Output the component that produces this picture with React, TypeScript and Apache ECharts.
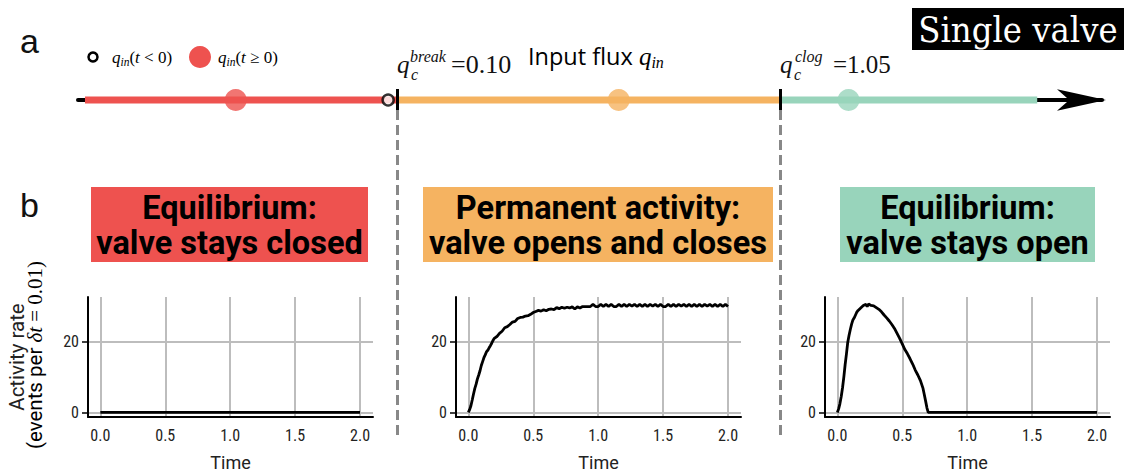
import React, { useEffect, useRef } from 'react';
import * as echarts from 'echarts';

// ---------- data ----------
const timeClosed = [0, 0.5, 1.0, 1.5, 2.0];
const rateClosed = [0, 0, 0, 0, 0];

const timePermanent = [
  0.00, 0.01, 0.02, 0.03, 0.04, 0.05, 0.06, 0.07, 0.08, 0.09, 0.10, 0.11, 0.12, 0.13, 0.14, 0.15, 0.16, 0.17, 0.18, 0.19,
  0.20, 0.22, 0.24, 0.26, 0.28, 0.30, 0.32, 0.34, 0.36, 0.38, 0.40, 0.42, 0.44, 0.46, 0.48, 0.50, 0.52, 0.54, 0.56, 0.58,
  0.60, 0.62, 0.64, 0.66, 0.68, 0.70, 0.72, 0.74, 0.76, 0.78, 0.80, 0.82, 0.84, 0.86, 0.88, 0.90, 0.92, 0.94, 0.96, 0.98,
  1.00, 1.02, 1.04, 1.06, 1.08, 1.10, 1.12, 1.14, 1.16, 1.18, 1.20, 1.22, 1.24, 1.26, 1.28, 1.30, 1.32, 1.34, 1.36, 1.38,
  1.40, 1.42, 1.44, 1.46, 1.48, 1.50, 1.52, 1.54, 1.56, 1.58, 1.60, 1.62, 1.64, 1.66, 1.68, 1.70, 1.72, 1.74, 1.76, 1.78,
  1.80, 1.82, 1.84, 1.86, 1.88, 1.90, 1.92, 1.94, 1.96, 1.98, 2.00,
];
const ratePermanent = [
  0.0, 0.8, 1.9, 3.5, 5.2, 6.8, 8.0, 9.5, 10.6, 11.8, 13.3, 14.4, 15.5, 16.3, 17.2, 17.6, 18.3, 18.9, 19.6, 20.4,
  21.0, 21.5, 22.4, 23.0, 24.0, 24.3, 24.9, 25.6, 25.8, 26.6, 26.9, 27.0, 27.3, 27.4, 27.8, 28.3, 28.6, 28.9, 28.7, 29.1,
  28.8, 29.2, 29.3, 29.1, 29.7, 29.4, 29.8, 29.5, 29.8, 29.6, 29.9, 29.3, 29.9, 29.6, 30.0, 30.0, 30.0, 30.0, 30.6, 30.0,
  30.0, 30.6, 30.0, 30.6, 30.0, 30.6, 30.0, 30.0, 30.6, 30.0, 30.6, 30.0, 30.6, 30.1, 30.6, 30.0, 30.6, 30.0, 30.6, 30.0,
  30.6, 30.1, 30.6, 30.0, 30.6, 30.0, 30.0, 30.6, 30.0, 30.6, 30.0, 30.6, 30.1, 30.6, 30.0, 30.6, 30.0, 30.6, 30.0, 30.6,
  30.0, 30.6, 30.1, 30.6, 30.0, 30.6, 30.0, 30.6, 30.0, 30.6, 30.0,
];

const timeOpen = [
  0.00, 0.01, 0.02, 0.03, 0.04, 0.05, 0.06, 0.07, 0.08, 0.09, 0.10, 0.11, 0.12, 0.13, 0.14, 0.15, 0.16, 0.18, 0.20, 0.22,
  0.23, 0.24, 0.26, 0.28, 0.30, 0.32, 0.34, 0.36, 0.38, 0.40, 0.42, 0.44, 0.46, 0.48, 0.50, 0.52, 0.54, 0.56, 0.58, 0.60,
  0.62, 0.64, 0.66, 0.67, 0.68, 0.69, 0.70, 1.00, 1.50, 2.00,
];
const rateOpen = [
  0.0, 1.0, 2.5, 4.5, 7.0, 10.0, 13.5, 16.5, 19.8, 21.8, 23.5, 25.0, 26.2, 26.8, 27.6, 28.4, 28.9, 29.6, 30.3, 30.6,
  30.0, 30.7, 30.3, 30.2, 29.7, 29.2, 28.5, 27.6, 26.8, 25.9, 24.9, 23.8, 22.4, 21.0, 19.4, 17.8, 16.6, 15.2, 13.7, 12.0,
  10.6, 9.0, 6.8, 5.0, 3.2, 1.3, 0.0, 0.0, 0.0, 0.0,
];

const xTicks = [0, 0.5, 1.0, 1.5, 2.0];
const yTicks = [0, 20];

const regimeTitles = [
  'Equilibrium:\nvalve stays closed',
  'Permanent activity:\nvalve opens and closes',
  'Equilibrium:\nvalve stays open',
];
const regimeColors = ['#EE524F', '#F5B361', '#98D4BB'];
const regimeStart = [-0.674, 0.10, 1.05];
const regimeEnd = [0.10, 1.05, 1.688];
const regimeDot = [-0.30, 0.65, 1.22];
const qThresholds = [0.10, 1.05];
const qInitial = 0.078;

// ---------- styles ----------
const SANS = "Roboto, 'Noto Sans', sans-serif";
const COND = "'Roboto Condensed', 'DejaVu Sans Condensed', 'DejaVu Sans', sans-serif";
const SERIF = "'Liberation Serif', 'DejaVu Serif', serif";

const plotLefts = [88, 456, 825];
const plotWidth = 285;

function buildOption() {
  const series: any[] = [];
  const grids: any[] = [];
  const xAxes: any[] = [];
  const yAxes: any[] = [];
  const panels = [
    [timeClosed, rateClosed],
    [timePermanent, ratePermanent],
    [timeOpen, rateOpen],
  ];

  panels.forEach(([ts, vs], i) => {
    grids.push({ left: plotLefts[i], top: 297, width: plotWidth, height: 120 });
    xAxes.push({
      type: 'value', gridIndex: i, min: -0.095, max: 2.1,
      name: 'Time', nameLocation: 'middle', nameGap: 36,
      nameTextStyle: { fontFamily: SANS, fontSize: 18, color: '#222' },
      axisLine: { show: true, onZero: false, lineStyle: { color: '#000', width: 2 } },
      axisTick: { show: false, customValues: xTicks },
      axisLabel: {
        customValues: xTicks, margin: 10, fontFamily: COND, fontSize: 16, color: '#222',
        formatter: (v: number) => v.toFixed(1),
      },
      splitLine: { show: true, lineStyle: { color: '#bdbdbd', width: 2 } },
    });
    yAxes.push({
      type: 'value', gridIndex: i, min: -1.3, max: 32.7,
      axisLine: { show: true, onZero: false, lineStyle: { color: '#000', width: 2 } },
      axisTick: { show: true, length: 6, customValues: yTicks, lineStyle: { color: '#000', width: 1.5 } },
      axisLabel: { customValues: yTicks, margin: 9, fontFamily: COND, fontSize: 16, color: '#222' },
      splitLine: { show: true, lineStyle: { color: '#bdbdbd', width: 2 } },
    });
    series.push({
      type: 'line', xAxisIndex: i, yAxisIndex: i, symbol: 'none', z: 3,
      data: (ts as number[]).map((t, k) => [t, (vs as number[])[k]]),
      lineStyle: { color: '#000', width: 2.8 },
    });
  });

  // number line grid (index 3)
  grids.push({ left: 78, top: 80, width: 1024, height: 360 });
  xAxes.push({
    type: 'value', gridIndex: 3, min: -0.6913, max: 1.8487,
    axisLine: {
      show: true, onZero: true, lineStyle: { color: '#000', width: 4 },
      symbol: ['none', 'arrow'], symbolSize: [16, 49], symbolOffset: [0, 4],
    },
    axisTick: { show: false }, axisLabel: { show: false }, splitLine: { show: false },
  });
  yAxes.push({ type: 'value', gridIndex: 3, min: -340, max: 20, show: false });

  regimeStart.forEach((s, i) => {
    series.push({
      type: 'line', xAxisIndex: 3, yAxisIndex: 3, symbol: 'none', z: 3,
      data: [[s, 0], [regimeEnd[i], 0]],
      lineStyle: { color: regimeColors[i], width: 7, cap: 'butt' },
    });
  });
  series.push({
    type: 'lines', coordinateSystem: 'cartesian2d', xAxisIndex: 3, yAxisIndex: 3, z: 4,
    data: qThresholds.map((q) => ({ coords: [[q, -10], [q, -338]] })),
    lineStyle: { color: '#888', width: 3, type: [10, 5], opacity: 1, curveness: 0 },
  });
  series.push({
    type: 'lines', coordinateSystem: 'cartesian2d', xAxisIndex: 3, yAxisIndex: 3, z: 4,
    data: qThresholds.map((q) => ({ coords: [[q, 11], [q, -10]] })),
    lineStyle: { color: '#000', width: 3, opacity: 1, curveness: 0 },
  });
  series.push({
    type: 'scatter', xAxisIndex: 3, yAxisIndex: 3, symbolSize: 22, z: 5,
    data: regimeDot.map((q, i) => ({ value: [q, 0], itemStyle: { color: regimeColors[i] } })),
  });
  series.push({
    type: 'scatter', xAxisIndex: 3, yAxisIndex: 3, symbolSize: 11, z: 6,
    data: [[qInitial, 0]],
    itemStyle: { color: '#fff', borderColor: '#000', borderWidth: 2.5 },
  });

  const mathRich = {
    q: { fontFamily: SERIF, fontStyle: 'italic', fontSize: 17, color: '#111', lineHeight: 21, verticalAlign: 'middle' },
    s: { fontFamily: SERIF, fontStyle: 'italic', fontSize: 11.5, color: '#111', verticalAlign: 'bottom', lineHeight: 11 },
    n: { fontFamily: SERIF, fontSize: 17, color: '#111', lineHeight: 21, verticalAlign: 'middle' },
  };

  const graphic: any[] = [
    { type: 'text', left: 20, top: 24, style: { text: 'a', font: "34px 'Liberation Sans', Arial, sans-serif", fill: '#111' } },
    { type: 'text', left: 20, top: 188, style: { text: 'b', font: "34px 'Liberation Sans', Arial, sans-serif", fill: '#111' } },
    // legend
    { type: 'circle', shape: { cx: 93, cy: 57, r: 4.5 }, style: { fill: '#fff', stroke: '#000', lineWidth: 2.5 } },
    { type: 'text', x: 112, y: 57, style: { text: '{q|q}{s|in}{n|(}{q|t}{n| < 0)}', rich: mathRich, verticalAlign: 'middle' } },
    { type: 'circle', shape: { cx: 200, cy: 57, r: 11 }, style: { fill: regimeColors[0] } },
    { type: 'text', x: 218, y: 57, style: { text: '{q|q}{s|in}{n|(}{q|t}{n| ≥ 0)}', rich: mathRich, verticalAlign: 'middle' } },
    // thresholds labels
    { type: 'text', x: 397, y: 64, style: { text: 'q', font: `italic 25px ${SERIF}`, fill: '#111', verticalAlign: 'middle' } },
    { type: 'text', x: 411, y: 74, style: { text: 'c', font: `italic 16px ${SERIF}`, fill: '#111', verticalAlign: 'middle' } },
    { type: 'text', x: 410, y: 56, style: { text: 'break', font: `italic 16px ${SERIF}`, fill: '#111', verticalAlign: 'middle' } },
    { type: 'text', x: 451, y: 64, style: { text: '=0.10', font: `26px ${SERIF}`, fill: '#111', verticalAlign: 'middle' } },
    { type: 'text', x: 780, y: 64, style: { text: 'q', font: `italic 25px ${SERIF}`, fill: '#111', verticalAlign: 'middle' } },
    { type: 'text', x: 794, y: 74, style: { text: 'c', font: `italic 16px ${SERIF}`, fill: '#111', verticalAlign: 'middle' } },
    { type: 'text', x: 795, y: 56, style: { text: 'clog', font: `italic 16px ${SERIF}`, fill: '#111', verticalAlign: 'middle' } },
    { type: 'text', x: 833, y: 64, style: { text: '=1.05', font: `25px ${SERIF}`, fill: '#111', verticalAlign: 'middle' } },
    // axis title
    {
      type: 'text', x: 528, y: 56,
      style: {
        text: '{a|Input flux }{q|q}{s|in}', verticalAlign: 'middle',
        rich: {
          a: { fontFamily: "'Open Sans', sans-serif", fontSize: 23.5, color: '#111', lineHeight: 28, verticalAlign: 'middle' },
          q: { fontFamily: SERIF, fontStyle: 'italic', fontSize: 25, color: '#111', lineHeight: 28, verticalAlign: 'middle' },
          s: { fontFamily: SERIF, fontStyle: 'italic', fontSize: 16, color: '#111', lineHeight: 15, verticalAlign: 'bottom' },
        },
      },
    },
    // Single valve
    { type: 'rect', shape: { x: 912, y: 8, width: 212, height: 42 }, style: { fill: '#000' } },
    {
      type: 'text', x: 1018, y: 29,
      style: { text: 'Single valve', font: "36px 'DejaVu Serif Condensed', 'DejaVu Serif', serif", fill: '#fff', align: 'center', verticalAlign: 'middle' },
    },
    // y label
    {
      type: 'text', x: 17, y: 357, rotation: Math.PI / 2,
      style: { text: 'Activity rate', font: `20.5px ${SANS}`, fill: '#222', align: 'center', verticalAlign: 'middle' },
    },
    {
      type: 'text', x: 35, y: 355, rotation: Math.PI / 2,
      style: {
        text: '{a|(events per }{i|δt}{m| = 0.01)}', align: 'center', verticalAlign: 'middle',
        rich: {
          a: { fontFamily: SANS, fontSize: 20.5, color: '#222' },
          i: { fontFamily: SERIF, fontStyle: 'italic', fontSize: 21, color: '#222' },
          m: { fontFamily: SERIF, fontSize: 21, color: '#222' },
        },
      },
    },
  ];

  const boxes = [
    { x: 91, w: 277 },
    { x: 423, w: 350 },
    { x: 840, w: 255 },
  ];
  boxes.forEach((b, i) => {
    graphic.push({ type: 'rect', shape: { x: b.x, y: 187, width: b.w, height: 75 }, style: { fill: regimeColors[i] } });
    graphic.push({
      type: 'text', x: b.x + b.w / 2, y: 225,
      style: {
        text: regimeTitles[i], font: `bold 32.5px ${SANS}`, fill: '#000', align: 'center', verticalAlign: 'middle', lineHeight: 35,
      },
    });
  });

  return {
    animation: false,
    backgroundColor: '#fff',
    grid: grids,
    xAxis: xAxes,
    yAxis: yAxes,
    series,
    graphic,
  };
}

export default function App() {
  const ref = useRef<HTMLDivElement>(null);
  useEffect(() => {
    if (!ref.current) return;
    const chart = echarts.init(ref.current, undefined, { renderer: 'svg' });
    chart.setOption(buildOption() as any);
    return () => chart.dispose();
  }, []);
  return <div ref={ref} style={{ position: 'absolute', left: 0, top: 0, width: 1129, height: 472 }} />;
}
